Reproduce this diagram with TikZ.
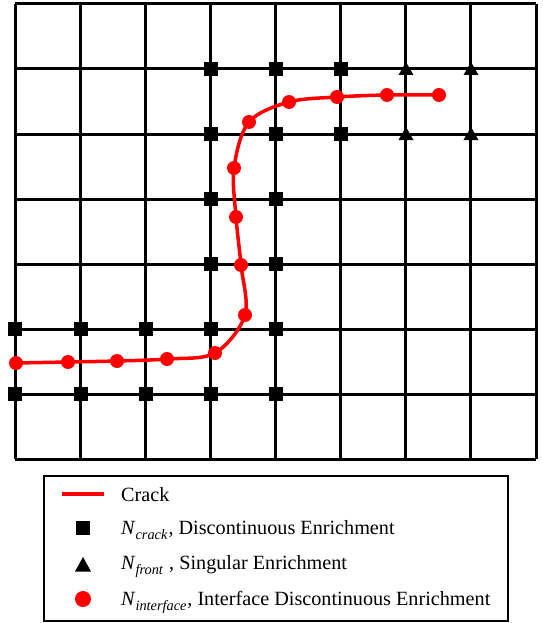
\documentclass[tikz,border=0pt]{standalone}
\usepackage{fontspec}
\setmainfont{Liberation Serif}
\newcommand\Nsub[1]{\textit{N}\raisebox{-5pt}{\fontsize{14.3}{14}\selectfont\textit{#1}}\kern1pt}
\tikzset{
  gridline/.style={line width=3pt, black},
  sqmark/.style={rectangle, fill=black, inner sep=0pt, minimum size=14pt},
  dotmark/.style={circle, fill=red, inner sep=0pt, minimum size=14pt},
  crackline/.style={red, line width=3.5pt},
  legtext/.style={anchor=base west, inner sep=0pt, font=\fontsize{20.2}{24}\selectfont},
}
\begin{document}
\begin{tikzpicture}[x=1pt, y=-1pt]
\fill[white] (0,0) rectangle (542,623);
\useasboundingbox (0,0) rectangle (542,623);
% grid
\foreach \i in {0,...,8} {
  \draw[gridline] ({15+\i*65.125},4) -- ({15+\i*65.125},459);
}
\foreach \j in {0,...,7} {
  \draw[gridline] (15,{4+\j*65}) -- (536,{4+\j*65});
}
% crack
\draw[crackline] plot[smooth, tension=0.55] coordinates {
 (16,363) (68,362) (117,361) (167,359) (215,353) (245,315) (241,265)
 (236,217) (234,168) (249,122) (289,102) (337,97) (387,95) (439,95)};
\foreach \p [count=\k] in {(16,363),(68,362),(117,361),(167,359),(215,353),(245,315),(241,265),(236,217),(234,168),(249,122),(289,102),(337,97),(387,95),(439,95)} {
  \node[dotmark] (c\k) at \p {};
}
% discontinuous enrichment nodes
\foreach \x/\y [count=\k] in {211/69,276/69,341/69,211/134,276/134,341/134,211/199,276/199,211/264,276/264,
  15/329,81/329,146/329,211/329,276/329,15/394,81/394,146/394,211/394,276/394} {
  \node[sqmark] (s\k) at (\x,\y) {};
}
% singular enrichment nodes
\foreach \x/\y [count=\k] in {406/69,471/69,406/134,471/134} {
  \coordinate (t\k) at (\x,\y);
  \fill[black] ([shift={(0,-7)}]t\k) -- ([shift={(7.5,6)}]t\k) -- ([shift={(-7.5,6)}]t\k) -- cycle;
}
% legend
\draw[line width=1.5pt] (44,476) rectangle (508,621);
\coordinate (l1a) at (62,494);
\coordinate (l1b) at (104,494);
\draw[red, line width=4pt] (l1a) -- (l1b);
\node[legtext] (lt1) at (121,501) {Crack};
\node[sqmark] (ls) at (83,528) {};
\node[legtext] (lt2) at (121,534) {\Nsub{crack}, Discontinuous Enrichment};
\coordinate (lt) at (83,565);
\fill[black] ([shift={(0,-8)}]lt) -- ([shift={(8,6.5)}]lt) -- ([shift={(-8,6.5)}]lt) -- cycle;
\node[legtext] (lt3) at (121,569) {\Nsub{front}\ , Singular Enrichment};
\node[dotmark, minimum size=16pt] (lc) at (83,599) {};
\node[legtext] (lt4) at (121,605) {\Nsub{interface}, Interface Discontinuous Enrichment};
\end{tikzpicture}
\end{document}
